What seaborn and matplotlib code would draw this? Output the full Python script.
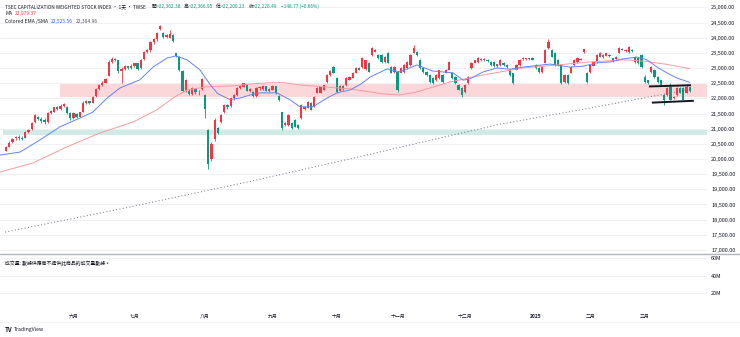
import matplotlib
matplotlib.use("Agg")
import matplotlib.pyplot as plt
from matplotlib import transforms
from matplotlib.lines import Line2D
import pandas as pd
import seaborn as sns

# ---- TSEC weighted index, daily candles (bar index order) ----
opens = [
    20280, 20400, 20560, 20680, 20740, 20700, 20700, 20880, 20980, 21220,
    21400, 21330, 21280, 21220, 21520, 21560, 21700, 21640, 21760, 21700,
    21520, 21340, 21500, 21400, 21560, 21860, 21900, 21860, 22080, 22300,
    22450, 22520, 22750, 23200, 23300, 23250, 22900, 22980, 23060, 23000,
    23080, 23150, 23000, 23300, 23540, 23600, 23870, 23950, 24280, 24150,
    24020, 24000, 24100, 23480, 23350, 22900, 22250, 22250, 22150, 22300,
    22200, 22300, 22100, 20950, 20000, 20650, 21020, 21220, 21550, 21780,
    21750, 22000, 22110, 22340, 22380, 22450, 22250, 22200, 22080, 22330,
    22300, 22400, 22250, 22280, 22400, 22080, 21550, 21120, 21120, 21180,
    21290, 21120, 21350, 21640, 21690, 21850, 21720, 22180, 22180, 22280,
    22540, 22770, 23030, 22670, 22250, 22420, 22440, 22610, 22680, 22840,
    23000, 23030, 22960, 23170, 23430, 23540, 23430, 23430, 23200, 23500,
    23030, 22870, 22870, 22840, 22870, 23000, 23100, 23500, 23530, 23270,
    23000, 22870, 22770, 22670, 22600, 22670, 22770, 22840, 22940, 22840,
    22700, 22440, 22340, 22200, 22500, 23000, 23170, 23200, 23300, 23260,
    23270, 23200, 23200, 23050, 23100, 23170, 23100, 22940, 22830, 22940,
    23100, 23300, 23300, 23320, 23330, 23100, 23000, 22870, 23170, 23660,
    23600, 23500, 23270, 23100, 22540, 22770, 22840, 23100, 23200, 23300,
    23530, 22840, 22870, 23070, 23200, 23370, 23430, 23400, 23440, 23320,
    23300, 23500, 23640, 23550, 23530, 23600, 23370, 23330, 23430, 22700,
    22600, 22870, 22940, 22700, 22600, 22110, 22110, 22380, 22010, 22110,
    22340, 22340, 22180, 22362.38,
]
highs = [
    20420, 20580, 20700, 20760, 20780, 20750, 20920, 20990, 21230, 21480,
    21420, 21400, 21350, 21560, 21600, 21720, 21760, 21800, 21860, 21740,
    21560, 21560, 21520, 21560, 21900, 21940, 21920, 22080, 22350, 22480,
    22560, 22680, 23250, 23350, 23330, 23280, 23020, 23100, 23080, 23120,
    23180, 23160, 23300, 23560, 23640, 23900, 24000, 24200, 24420, 24200,
    24120, 24250, 24120, 23500, 23380, 22950, 22650, 22300, 22380, 22350,
    22280, 22680, 22150, 21000, 20550, 21350, 21060, 21480, 21800, 21820,
    22050, 22130, 22360, 22440, 22520, 22470, 22330, 22230, 22360, 22400,
    22430, 22420, 22330, 22450, 22420, 22100, 21560, 21230, 21470, 21220,
    21320, 21150, 21800, 21740, 21900, 21880, 22070, 22370, 22400, 22450,
    22790, 22920, 23060, 22690, 22440, 22440, 22690, 22720, 22860, 23020,
    23030, 23350, 23270, 23190, 23680, 23620, 23450, 23450, 23390, 23520,
    23050, 23050, 22890, 23020, 23120, 23220, 23450, 23750, 23550, 23290,
    23020, 22890, 22790, 22690, 22790, 22950, 22790, 22960, 23220, 22860,
    22720, 22460, 22360, 22460, 22720, 23190, 23280, 23350, 23320, 23320,
    23290, 23220, 23220, 23140, 23290, 23190, 23120, 22960, 22850, 23120,
    23290, 23350, 23340, 23340, 23350, 23120, 23020, 23050, 23620, 23950,
    23620, 23520, 23290, 23120, 22790, 22790, 23050, 23290, 23350, 23320,
    23640, 22860, 23120, 23220, 23450, 23520, 23450, 23500, 23460, 23340,
    23390, 23680, 23660, 23620, 23720, 23620, 23390, 23350, 23450, 22780,
    22620, 23050, 22960, 22720, 22620, 22130, 22360, 22500, 22070, 22360,
    22360, 22360, 22460, 22366.95,
]
lows = [
    20250, 20380, 20520, 20620, 20640, 20620, 20680, 20850, 20960, 21200,
    21300, 21200, 21150, 21200, 21480, 21540, 21600, 21620, 21700, 21480,
    21300, 21320, 21350, 21380, 21540, 21820, 21800, 21840, 22060, 22280,
    22400, 22500, 22720, 23150, 23220, 22850, 22500, 22950, 22960, 22980,
    23040, 22950, 22980, 23280, 23500, 23520, 23800, 23900, 24250, 23980,
    23990, 23980, 23850, 23350, 22900, 22200, 22200, 22100, 22100, 22150,
    22100, 22280, 21350, 19660, 19950, 20600, 20820, 21180, 21520, 21660,
    21730, 21960, 22090, 22300, 22360, 22230, 22200, 22050, 22060, 22280,
    22280, 22230, 22200, 22260, 22150, 21920, 20960, 21080, 21100, 21000,
    21040, 21000, 21330, 21600, 21670, 21600, 21700, 22160, 22160, 22260,
    22520, 22750, 22820, 22180, 22230, 22280, 22420, 22590, 22660, 22820,
    22930, 23010, 22940, 22860, 23410, 23520, 23310, 23180, 23180, 23150,
    22820, 22850, 22210, 22820, 22850, 22980, 23080, 23480, 23410, 22980,
    22850, 22750, 22520, 22480, 22580, 22650, 22520, 22820, 22920, 22650,
    22480, 22260, 22050, 22180, 22480, 22980, 23150, 23180, 23240, 23240,
    23210, 23080, 23040, 23030, 23080, 23080, 23010, 22750, 22480, 22920,
    23080, 23280, 23280, 23270, 23250, 22980, 22850, 22850, 23150, 23640,
    23350, 23080, 23080, 22480, 22520, 22480, 22820, 23080, 23180, 23250,
    23510, 22520, 22850, 23050, 23180, 23350, 23340, 23380, 23360, 23210,
    23280, 23480, 23580, 23530, 23510, 23530, 23180, 23130, 23010, 22520,
    22480, 22850, 22680, 22520, 22420, 21780, 22090, 21930, 21990, 22090,
    22160, 21930, 22160, 22200.23,
]
closes = [
    20380, 20540, 20660, 20720, 20680, 20650, 20880, 20950, 21200, 21440,
    21330, 21260, 21220, 21520, 21570, 21700, 21640, 21760, 21820, 21520,
    21340, 21530, 21380, 21540, 21860, 21900, 21840, 22050, 22300, 22450,
    22520, 22650, 23200, 23300, 23260, 22900, 22980, 23050, 23000, 23080,
    23150, 22980, 23270, 23520, 23600, 23870, 23950, 24150, 24390, 24020,
    24080, 24130, 23880, 23380, 22950, 22250, 22600, 22150, 22330, 22200,
    22220, 22640, 21640, 19830, 20500, 21300, 20870, 21450, 21780, 21700,
    22000, 22100, 22340, 22420, 22500, 22250, 22300, 22080, 22330, 22360,
    22400, 22250, 22300, 22420, 22180, 21950, 21030, 21200, 21450, 21020,
    21060, 21020, 21780, 21720, 21880, 21620, 22050, 22350, 22380, 22430,
    22770, 22900, 22840, 22210, 22420, 22300, 22670, 22700, 22840, 23000,
    22950, 23330, 23250, 22880, 23660, 23600, 23330, 23200, 23370, 23170,
    22840, 23030, 22280, 23000, 23100, 23200, 23430, 23660, 23430, 23000,
    22870, 22770, 22540, 22500, 22770, 22930, 22540, 22940, 23200, 22670,
    22500, 22280, 22110, 22440, 22700, 23170, 23260, 23330, 23260, 23300,
    23230, 23100, 23060, 23120, 23270, 23100, 23030, 22770, 22500, 23100,
    23270, 23330, 23320, 23290, 23270, 23000, 22870, 23030, 23600, 23860,
    23370, 23100, 23100, 22500, 22770, 22500, 23030, 23270, 23330, 23270,
    23620, 22540, 23100, 23200, 23430, 23500, 23360, 23480, 23380, 23230,
    23370, 23660, 23600, 23600, 23700, 23550, 23200, 23150, 23030, 22540,
    22500, 23030, 22700, 22540, 22440, 21950, 22340, 21950, 22050, 22340,
    22180, 21950, 22377.26, 22228.49,
]

# indicator lines, read at selected bars
ema_bars = [-1.87, 4.4, 10.6, 16.8, 23, 27.1, 31.5, 35.5, 41.7, 45.8, 50.2, 53,
            56.4, 60.4, 63.6, 66, 69.8, 72.9, 76, 79.1, 84.4, 88.5, 91.6, 95.6,
            100, 103.1, 107.2, 110.3, 113.4, 118.7, 122.7, 128, 133, 139.3,
            142.4, 144.5, 148.6, 153, 157, 161, 169.5, 175.7, 179.8, 184.1,
            188.2, 192.2, 196.6, 199.7, 202.8, 205.9, 209, 213]
ema_vals = [20130, 20230, 20630, 21060, 21350, 21550, 22010, 22340, 22610, 23030,
            23330, 23400, 23270, 22940, 22450, 22150, 21960, 22010, 22110, 22180,
            22180, 21950, 21720, 21720, 22010, 22180, 22280, 22450, 22700, 22970,
            22870, 23100, 22900, 22840, 22600, 22640, 22870, 23000, 22960, 23030,
            23130, 23030, 23060, 23170, 23200, 23300, 23360, 23270, 23030, 22840,
            22670, 22525.56]
ma_bars = [-1.87, 8.4, 19, 29.3, 39.6, 47, 52, 56.4, 62.6, 70.7, 76, 81.3, 86.3,
           91.6, 107.2, 117.4, 122.7, 128, 138.3, 148.6, 161, 171.6, 182, 192.2,
           198.4, 205.9, 213]
ma_vals = [19570, 19870, 20400, 20860, 21220, 21620, 22010, 22280, 22380, 22410,
           22470, 22510, 22520, 22440, 22310, 22150, 22110, 22210, 22540, 22770,
           23000, 23100, 23200, 23270, 23230, 23120, 22979.37]
sma_bars = [-0.3, 35.5, 76, 107, 138, 154, 182, 207, 213]
sma_vals = [17590, 18350, 19260, 20000, 20760, 21150, 21680, 22180, 22304.96]

# shaded price zones: (low, high, first bar)
resistance_zone = (22050, 22470, 16.8)
support_zone = (20800, 21000, -0.9)
# hand-drawn channel around the latest consolidation
channel_top = ([200.3, 213.4], [22392, 22432])
channel_bottom = ([201.2, 214.3], [21858, 21920])

month_bars = [21, 40, 62, 83, 103, 122, 143, 165, 182, 199]
month_labels = ["六月", "七月", "八月", "九月", "十月", "十一月", "十二月", "2025", "二月", "三月"]
price_ticks = list(range(17000, 25001, 500))
volume_ticks = [20, 40, 60]

UP, DOWN = "#f23645", "#089981"
TEXT = "#131722"
GRID = "#eef0f3"

sns.set_theme(style="white")
plt.rcParams["font.family"] = ["Noto Sans CJK TC", "DejaVu Sans"]

df = pd.DataFrame({"open": opens, "high": highs, "low": lows, "close": closes})
df["bar"] = range(len(df))
df["up"] = df["close"] >= df["open"]
df["color"] = df["up"].map({True: UP, False: DOWN})
df["body_low"] = df[["open", "close"]].min(axis=1)
df["body_h"] = (df["close"] - df["open"]).abs().clip(lower=18)

W, H = 740, 337
fig = plt.figure(figsize=(W / 100, H / 100), dpi=100)
fig.patch.set_facecolor("white")


def fy(p):
    return 1 - p / H


PLOT_RIGHT = 707
ax = fig.add_axes([0, fy(253), PLOT_RIGHT / W, 253 / H])
axv = fig.add_axes([0, fy(311), PLOT_RIGHT / W, (311 - 255) / H])

XL = (-1.87, 218.38)
ax.set_xlim(*XL)
axv.set_xlim(*XL)
ax.set_ylim(16901, 25242)
axv.set_ylim(0, 63.3)

for a in (ax, axv):
    for s in a.spines.values():
        s.set_visible(False)
    a.set_facecolor("white")
    a.set_xticks([])
    a.yaxis.tick_right()
    a.tick_params(axis="y", length=0, pad=3, labelsize=4.0, labelcolor=TEXT)
    a.grid(axis="y", color=GRID, lw=0.7)
    a.grid(axis="x", visible=False)
    a.set_axisbelow(True)

ax.set_yticks(price_ticks)
ax.set_yticklabels([f"{v:,.2f}" for v in price_ticks])
axv.set_yticks(volume_ticks)
axv.set_yticklabels([f"{v}M" for v in volume_ticks])

span = XL[1] - XL[0]
for lo, hi, start, col in [(*resistance_zone, "#fcd7da"), (*support_zone, "#d0ebe5")]:
    ax.axhspan(lo, hi, xmin=(start - XL[0]) / span, xmax=1, color=col, lw=0, zorder=0.5)

# candles
ax.vlines(df["bar"], df["low"], df["high"], colors=df["color"], lw=0.6, zorder=2)
ax.bar(df["bar"], df["body_h"], bottom=df["body_low"], width=0.7,
       color=df["color"], linewidth=0, zorder=2.1)

# indicator lines
sns.lineplot(x=sma_bars, y=sma_vals, ax=ax, color="#787b86", lw=0.75,
             dashes=False, zorder=3)
ax.lines[-1].set_dashes((1.0, 2.2))
sns.lineplot(x=ma_bars, y=ma_vals, ax=ax, color="#f59aa3", lw=0.7, zorder=3)
sns.lineplot(x=ema_bars, y=ema_vals, ax=ax, color="#6382f5", lw=0.7, zorder=3)

for xs, ys in (channel_top, channel_bottom):
    ax.plot(xs, ys, color=TEXT, lw=1.4, solid_capstyle="butt", zorder=4)

# volume pane message
axv.text(5 / PLOT_RIGHT, 1 - (263 - 255) / (311 - 255),
         "成交量: 數據供應商不提供此商品的成交量數據。",
         transform=axv.transAxes, fontsize=3.5, color=TEXT, va="center", ha="left")

# pane separators
fig.add_artist(Line2D([0, 1], [fy(253.8)] * 2, transform=fig.transFigure,
                      color="#b2b5be", lw=1.0))
fig.add_artist(Line2D([0, 1], [fy(322)] * 2, transform=fig.transFigure,
                      color="#f0f1f4", lw=0.6))

# month labels on the time axis
tr = transforms.blended_transform_factory(ax.transData, fig.transFigure)
for b, lab in zip(month_bars, month_labels):
    fig.text(b, fy(316), lab, transform=tr, ha="center", va="center",
             fontsize=3.5, color=TEXT, fontweight="bold" if lab.isdigit() else "normal")

renderer = fig.canvas.get_renderer()


def draw_runs(runs, x_px, y_px, size):
    x = x_px
    for s, col, gap in runs:
        t = fig.text(x / W, fy(y_px), s, color=col, fontsize=size, va="center", ha="left")
        x += t.get_window_extent(renderer=renderer).width + gap


last = df.iloc[-1]
prev_close = df["close"].iloc[-2]
chg = last["close"] - prev_close
pct = chg / prev_close * 100


def signed(v, fmt):
    return ("−" if v < 0 else "+") + format(abs(v), fmt)


hdr_col = DOWN if chg < 0 else UP
draw_runs([
    ("TSEC CAPITALIZATION WEIGHTED STOCK INDEX · 1天 · TWSE", TEXT, 6),
    ("開", TEXT, 0), (f"={last['open']:,.2f}", hdr_col, 3),
    ("高", TEXT, 0), (f"={last['high']:,.2f}", hdr_col, 3),
    ("低", TEXT, 0), (f"={last['low']:,.2f}", hdr_col, 3),
    ("收", TEXT, 0), (f"={last['close']:,.2f}", hdr_col, 3),
    (f"{signed(chg, ',.2f')} ({signed(pct, '.2f')}%)", hdr_col, 0),
], 5, 6.5, 3.45)
draw_runs([("MA", TEXT, 3), (f"{ma_vals[-1]:,.2f}", UP, 0)], 5, 13.8, 3.6)
draw_runs([("Colored EMA /SMA", TEXT, 3), (f"{ema_vals[-1]:,.2f}", "#2962ff", 3),
           (f"{sma_vals[-1]:,.2f}", "#50535e", 0)], 5, 21, 3.6)

# TradingView mark
fig.text(5 / W, fy(329), "TV", fontsize=4.4, fontweight="bold", color=TEXT, va="center")
fig.text(14 / W, fy(329), "TradingView", fontsize=3.7, color=TEXT, va="center")

fig.savefig("out.png", dpi=100, facecolor="white")
